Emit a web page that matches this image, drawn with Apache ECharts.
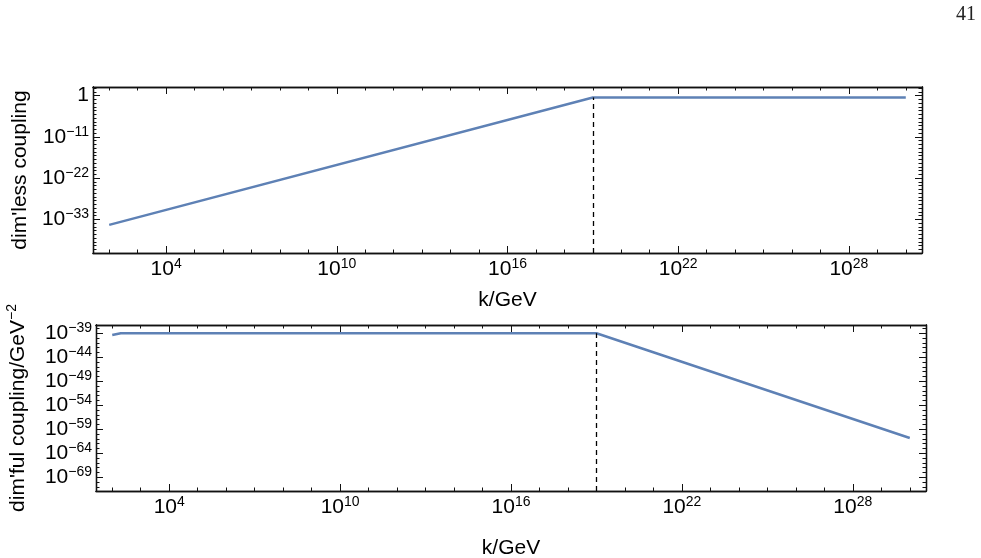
<!DOCTYPE html>
<html>
<head>
<meta charset="utf-8">
<script src="https://cdn.jsdelivr.net/npm/echarts@6/dist/echarts.min.js"></script>
<style>
    html, body { margin: 0; padding: 0; background: #fff; }
    #chart { width: 981px; height: 558px; }
</style>
</head>
<body>
<div id="chart"></div>
<script>
// exponents (log10)
const logK = [2, 19, 30]
const logDimless = [-34.5, -0.5, -0.5]
const logKDimful = [2, 2.3, 19, 30]
const logDimful = [-39.35, -39.0, -39.0, -60.8]
const planckLogK = 19

const xMajor = [4, 10, 16, 22, 28]
const xMinor = [2, 3, 5, 6, 7, 8, 9, 11, 12, 13, 14, 15, 17, 18, 19, 20, 21, 23, 24, 25, 26, 27, 29, 30]
const yMajorTop = [0, -11, -22, -33]
const yMajorBottom = [-39, -44, -49, -54, -59, -64, -69]

const xRange = [1.43, 30.57]
const yRangeTop = [-42, 2.3]
const yRangeBottom = [-71.85, -37.27]

const range = (a, b) => {
    let out = []
    for (let i = a; i <= b; i++) out.push(i)
    return out
}
const yMinorTop = range(-41, 2)
const yMinorBottom = range(-71, -38)

const FONT = 'Liberation Sans'
const rich = {
    b: { fontSize: 21, fontFamily: FONT, color: '#000', lineHeight: 24 },
    s: { fontSize: 14, fontFamily: FONT, color: '#000', verticalAlign: 'top', lineHeight: 14 }
}
const powLabel = (v) => {
    if (v === 0) return '{b|1}'
    let e = v < 0 ? '\u2212' + Math.abs(v) : String(v)
    return '{b|10}{s|' + e + '}'
}
const frameLine = { show: true, onZero: false, lineStyle: { color: '#111', width: 1.3 } }

const makeX = (grid, position, values, len, withLabel, nameGap) => ({
    type: 'value',
    gridIndex: grid,
    position: position,
    min: xRange[0],
    max: xRange[1],
    axisLine: frameLine,
    splitLine: { show: false },
    axisTick: { show: true, inside: true, length: len, customValues: values, lineStyle: { color: '#111', width: 1 } },
    axisLabel: withLabel
        ? { show: true, customValues: values, margin: 4, showMinLabel: true, showMaxLabel: true, hideOverlap: false, formatter: powLabel, rich: rich }
        : { show: false },
    name: withLabel ? 'k/GeV' : '',
    nameLocation: 'middle',
    nameGap: nameGap,
    nameTextStyle: { fontSize: 21, fontFamily: FONT, color: '#000' }
})

const makeY = (grid, position, values, len, withLabel, yr, name, nameGap) => ({
    type: 'value',
    gridIndex: grid,
    position: position,
    min: yr[0],
    max: yr[1],
    axisLine: frameLine,
    splitLine: { show: false },
    axisTick: { show: true, inside: true, length: len, customValues: values, lineStyle: { color: '#111', width: 1 } },
    axisLabel: withLabel
        ? { show: true, customValues: values, margin: 4, showMinLabel: true, showMaxLabel: true, hideOverlap: false, formatter: powLabel, rich: rich }
        : { show: false },
    name: withLabel ? name : '',
    nameLocation: 'middle',
    nameGap: nameGap,
    nameTextStyle: {
        fontSize: 21, fontFamily: FONT, color: '#000',
        rich: {
            a: { fontSize: 21, fontFamily: FONT, color: '#000', lineHeight: 27 },
            s: { fontSize: 14, fontFamily: FONT, color: '#000', verticalAlign: 'top', lineHeight: 15 }
        }
    }
})

const chart = echarts.init(document.getElementById('chart'))
const lineColor = '#5e81b5'

const dashLine = (yBottom, yTop) => ({
    silent: true,
    symbol: 'none',
    label: { show: false },
    lineStyle: { color: '#000', width: 1.3, type: [5, 4] },
    data: [[{ coord: [planckLogK, yBottom] }, { coord: [planckLogK, yTop] }]]
})

chart.setOption({
    animation: false,
    grid: [
        { left: 93, right: 59, top: 87, height: 166, outerBoundsMode: 'none' },
        { left: 96, right: 55, top: 325, height: 166, outerBoundsMode: 'none' }
    ],
    xAxis: [
        makeX(0, 'bottom', xMajor, 7, true, 37),
        makeX(0, 'bottom', xMinor, 3.5, false, 0),
        makeX(0, 'top', xMajor, 7, false, 0),
        makeX(0, 'top', xMinor, 3.5, false, 0),
        makeX(1, 'bottom', xMajor, 7, true, 47),
        makeX(1, 'bottom', xMinor, 3.5, false, 0),
        makeX(1, 'top', xMajor, 7, false, 0),
        makeX(1, 'top', xMinor, 3.5, false, 0)
    ],
    yAxis: [
        makeY(0, 'left', yMajorTop, 7, true, yRangeTop, "{a|dim'less coupling}", 58),
        makeY(0, 'left', yMinorTop, 3.5, false, yRangeTop, '', 0),
        makeY(0, 'right', yMajorTop, 7, false, yRangeTop, '', 0),
        makeY(0, 'right', yMinorTop, 3.5, false, yRangeTop, '', 0),
        makeY(1, 'left', yMajorBottom, 7, true, yRangeBottom, "{a|dim'ful coupling/GeV}{s|\u22122}", 64),
        makeY(1, 'left', yMinorBottom, 3.5, false, yRangeBottom, '', 0),
        makeY(1, 'right', yMajorBottom, 7, false, yRangeBottom, '', 0),
        makeY(1, 'right', yMinorBottom, 3.5, false, yRangeBottom, '', 0)
    ],
    series: [
        {
            type: 'line',
            xAxisIndex: 0,
            yAxisIndex: 0,
            data: logK.map((k, i) => [k, logDimless[i]]),
            showSymbol: false,
            lineStyle: { color: lineColor, width: 2.5 },
            itemStyle: { color: lineColor },
            markLine: dashLine(yRangeTop[0], logDimless[1]),
            z: 3
        },
        {
            type: 'line',
            xAxisIndex: 4,
            yAxisIndex: 4,
            data: logKDimful.map((k, i) => [k, logDimful[i]]),
            showSymbol: false,
            lineStyle: { color: lineColor, width: 2.5 },
            itemStyle: { color: lineColor },
            markLine: dashLine(yRangeBottom[0], logDimful[2]),
            z: 3
        }
    ],
    graphic: [
        {
            type: 'text',
            left: 956,
            top: 5,
            style: { text: '41', fontSize: 20, fontFamily: 'Liberation Serif', fill: '#222' }
        }
    ]
})
</script>
</body>
</html>
